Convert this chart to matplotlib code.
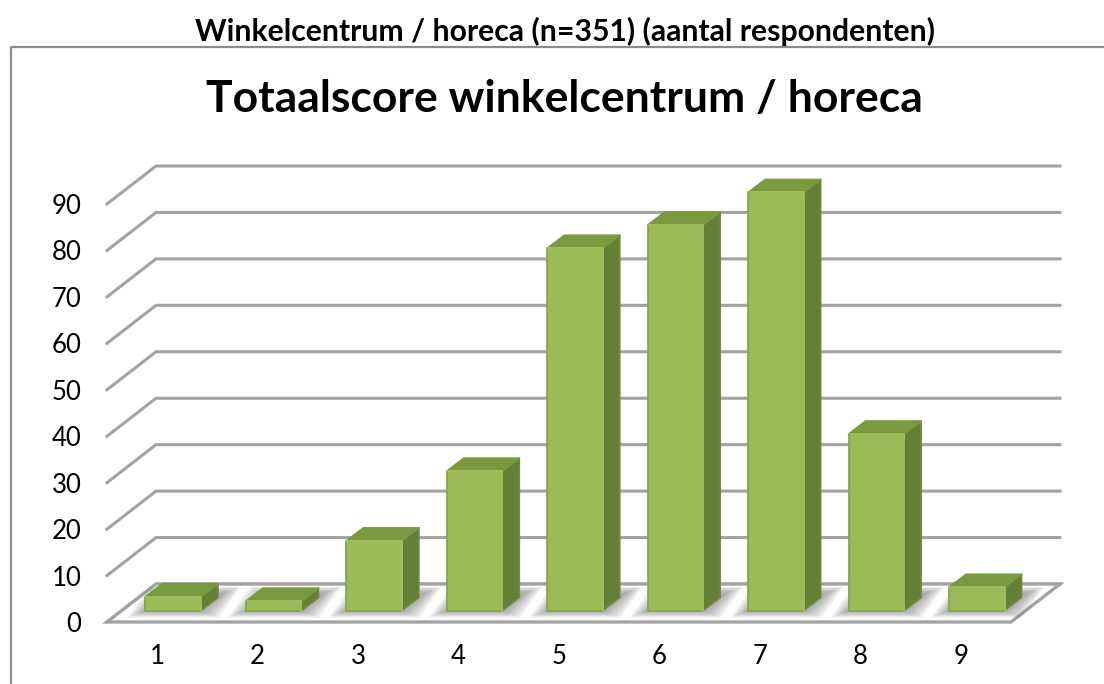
import matplotlib
matplotlib.use('Agg')
import matplotlib.pyplot as plt
from matplotlib.lines import Line2D
from matplotlib.patches import Polygon
from matplotlib.transforms import Affine2D

plt.rcParams['font.family'] = ['Lato', 'DejaVu Sans']

categories = ['1', '2', '3', '4', '5', '6', '7', '8', '9']
values = [3, 2, 15, 30, 78, 83, 90, 38, 5]
yticks = [0, 10, 20, 30, 40, 50, 60, 70, 80, 90]
header = 'Winkelcentrum / horeca (n=351) (aantal respondenten)'
title = 'Totaalscore winkelcentrum / horeca'

W, H = 1104, 684
fig = plt.figure(figsize=(W / 100, H / 100), dpi=100, facecolor='white')
ax = fig.add_axes([107 / W, (H - 622) / H, (1011 - 107) / W, (622 - 204) / H])
ax.set_xlim(0.5, 9.5)
ax.set_ylim(0, 90)
ax.patch.set_visible(False)
for s in ax.spines.values():
    s.set_visible(False)
ax.set_xticks(range(1, 10))
ax.set_xticklabels(categories)
ax.set_yticks(yticks)
ax.tick_params(length=0, labelsize=18.5, colors='black')
ax.tick_params(axis='x', pad=16)
ax.tick_params(axis='y', pad=18.5)

# pixels per data unit, for the fake 3d depth
px_x = (1011 - 107) / 9.0
px_y = (622 - 204) / 90.0
wall_dx, wall_dy = 49 / px_x, 38 / px_y
bar_dx, bar_dy = 17 / px_x, 13 / px_y
off_x, off_y = 16 / px_x, 11.5 / px_y
bar_w = 55.5 / px_x

grid_c = '#a3a3a3'
x0, x1 = 0.5, 9.5

# gridlines: diagonal on the left side, then along the back wall
for v in yticks:
    ax.plot([x0, x0 + wall_dx, x1 + wall_dx], [v, v + wall_dy, v + wall_dy], color=grid_c,
            lw=2.2, clip_on=False, zorder=1, solid_joinstyle='miter')

# floor
floor = Polygon([(x0, 0), (x1, 0), (x1 + wall_dx, wall_dy), (x0 + wall_dx, wall_dy)], closed=True,
                facecolor='white', edgecolor=grid_c, lw=2.4, clip_on=False, zorder=2, joinstyle='miter')
ax.add_patch(floor)

# soft shadows on the floor
for i, v in enumerate(values):
    left = i + 1 - bar_w / 2 + off_x
    right = left + bar_w
    for k in range(10):
        g = (10 - k) * 1.8 / px_x
        gy = (10 - k) * 0.7 / px_y
        sh = Polygon([(left - g, off_y - gy), (right + g, off_y - gy),
                      (right + bar_dx * 1.3 + g, off_y + bar_dy * 1.3 + gy),
                      (left + bar_dx * 1.3 - g, off_y + bar_dy * 1.3 + gy)],
                     closed=True, facecolor='#666666', edgecolor='none', alpha=0.07, zorder=3, clip_on=False)
        ax.add_patch(sh)
        sh.set_clip_path(floor)

shift = Affine2D().translate(off_x * px_x, off_y * px_y)
for i, v in enumerate(values):
    left = i + 1 - bar_w / 2 + off_x
    right = left + bar_w
    base = off_y
    top = off_y + v
    # side
    ax.fill([right, right + bar_dx, right + bar_dx, right],
            [base, base + bar_dy, top + bar_dy, top],
            facecolor='#658036', edgecolor='#6f8a3c', lw=1.2, joinstyle='round', zorder=5, clip_on=False)
    # top
    ax.fill([left, left + bar_dx, right + bar_dx, right],
            [top, top + bar_dy, top + bar_dy, top],
            facecolor='#7a9a3f', edgecolor='#7a9a3f', lw=1.2, joinstyle='round', zorder=5, clip_on=False)

# front faces
bars = ax.bar(range(1, 10), values, width=bar_w, color='#9bbb59', edgecolor='#84a04e', linewidth=1.2,
              transform=ax.transData + shift, zorder=6, clip_on=False)
for b in bars:
    b.set_joinstyle('round')
    # lighter bevel along top and right of the front
    x = b.get_x()
    w = b.get_width()
    h = b.get_height()
    ax.plot([x, x + w, x + w], [h, h, 0], color='#a6c561', lw=1.1, transform=ax.transData + shift,
            zorder=7, clip_on=False, solid_joinstyle='round')

# outer frame of the chart
frame_c = '#8c8c8c'
fig.add_artist(Line2D([11 / W, 11 / W, 1], [0, (H - 47) / H, (H - 47) / H], color=frame_c, lw=1.6))

fig.text(565 / W, (H - 31) / H, header, ha='center', va='center', fontsize=21.7, fontweight='bold', color='black')
fig.text(564 / W, (H - 99) / H, title, ha='center', va='center', fontsize=32, fontweight='bold', color='black')

fig.savefig('out.png', dpi=100, facecolor='white')
